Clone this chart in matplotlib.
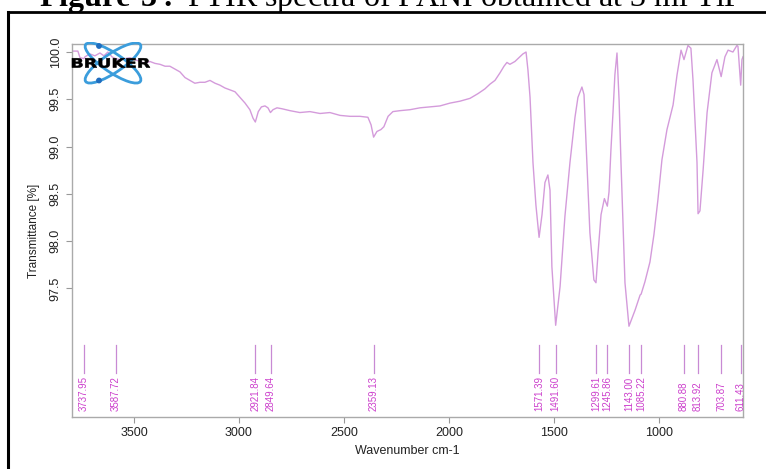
import matplotlib.pyplot as plt
from matplotlib.patches import Ellipse, Circle, PathPatch
from matplotlib.lines import Line2D
from matplotlib.textpath import TextPath
from matplotlib.font_manager import FontProperties
from matplotlib.transforms import Affine2D

plt.rcParams['font.family'] = ['Liberation Sans', 'DejaVu Sans']
plt.rcParams['mathtext.fontset'] = 'custom'
plt.rcParams['mathtext.bf'] = 'Liberation Serif:bold'
plt.rcParams['mathtext.rm'] = 'Liberation Serif'

# IR spectrum, wavenumber (cm-1) vs transmittance (%)
wavenumber = [3795, 3767, 3757, 3738, 3733, 3710, 3686, 3662, 3643, 3624,
              3605, 3588, 3567, 3543, 3519, 3495, 3471, 3448, 3424, 3400,
              3376, 3352, 3329, 3305, 3281, 3257, 3233, 3210, 3186, 3162,
              3138, 3114, 3091, 3067, 3043, 3019, 2995, 2971, 2948, 2933,
              2922, 2908, 2893, 2876, 2862, 2850, 2838, 2819, 2795, 2757,
              2710, 2662, 2614, 2567, 2519, 2471, 2424, 2386, 2371, 2359,
              2343, 2324, 2310, 2290, 2267, 2233, 2186, 2138, 2090, 2043,
              1995, 1948, 1900, 1862, 1829, 1805, 1781, 1757, 1738, 1724,
              1710, 1686, 1662, 1648, 1633, 1624, 1614, 1600, 1586, 1571,
              1557, 1543, 1529, 1519, 1510, 1492, 1471, 1448, 1424, 1400,
              1386, 1367, 1357, 1348, 1329, 1310, 1300, 1290, 1276, 1260,
              1246, 1238, 1229, 1219, 1210, 1200, 1190, 1181, 1162, 1143,
              1114, 1090, 1085, 1067, 1043, 1024, 1005, 986, 962, 933,
              914, 895, 881, 862, 848, 838, 819, 814, 805, 790,
              771, 748, 724, 704, 686, 671, 648, 629, 624, 611,
              605, 600]
transmittance = [100.01, 100.01, 99.94, 99.93, 99.95, 99.98, 99.96, 99.99, 99.96, 100.0,
                 99.95, 99.93, 99.92, 99.93, 99.94, 99.92, 99.90, 99.88, 99.90, 99.88,
                 99.87, 99.85, 99.85, 99.82, 99.79, 99.73, 99.70, 99.67, 99.68, 99.68,
                 99.70, 99.67, 99.65, 99.62, 99.60, 99.58, 99.52, 99.46, 99.39, 99.30,
                 99.26, 99.37, 99.42, 99.43, 99.41, 99.36, 99.39, 99.41, 99.40, 99.38,
                 99.36, 99.37, 99.35, 99.36, 99.33, 99.32, 99.32, 99.31, 99.23, 99.10,
                 99.16, 99.18, 99.21, 99.32, 99.37, 99.38, 99.39, 99.41, 99.42, 99.43,
                 99.46, 99.48, 99.51, 99.56, 99.61, 99.66, 99.70, 99.78, 99.85, 99.89,
                 99.87, 99.90, 99.95, 99.98, 100.0, 99.81, 99.52, 98.83, 98.38, 98.04,
                 98.28, 98.62, 98.70, 98.54, 97.73, 97.11, 97.52, 98.26, 98.83, 99.31,
                 99.52, 99.63, 99.55, 99.07, 98.09, 97.59, 97.56, 97.88, 98.28, 98.45,
                 98.37, 98.52, 98.96, 99.36, 99.76, 99.99, 99.49, 98.83, 97.56, 97.10,
                 97.27, 97.43, 97.44, 97.57, 97.78, 98.07, 98.44, 98.86, 99.18, 99.44,
                 99.76, 100.02, 99.92, 100.07, 100.04, 99.70, 98.83, 98.29, 98.32, 98.75,
                 99.36, 99.78, 99.92, 99.74, 99.95, 100.02, 100.0, 100.07, 100.06, 99.65,
                 99.92, 99.95]

# picked peaks
peaks = [3737.95, 3587.72, 2921.84, 2849.64, 2359.13, 1571.39, 1491.60,
         1299.61, 1245.86, 1143.00, 1085.22, 880.88, 813.92, 703.87, 611.43]

x_ticks = [3500, 3000, 2500, 2000, 1500, 1000]
y_ticks = [97.5, 98.0, 98.5, 99.0, 99.5, 100.0]

W, H = 766, 469
fig = plt.figure(figsize=(W / 100, H / 100), dpi=100)

ax = fig.add_axes([72 / W, 1 - 417 / H, (743 - 72) / W, (417 - 44) / H])
ax.plot(wavenumber, transmittance, color='#d49bdb', lw=1.0)
ax.set_xlim(3795, 600)
ax.set_ylim(96.14, 100.085)

for p in peaks:
    ax.plot([p, p], [96.61, 96.90], color='#c88ad4', lw=0.9)
    ax.text(p, 96.205, '%.2f' % p, rotation=90, ha='center', va='bottom',
            fontsize=7, color='#cc3fcc', clip_on=True)

ax.set_xticks(x_ticks)
ax.set_yticks(y_ticks)
ax.set_yticklabels(['%.1f' % v for v in y_ticks], rotation=90, va='center')
ax.tick_params(length=4.5, width=0.8, color='#999999', labelsize=9,
               labelcolor='#222222', pad=3)
for s in ax.spines.values():
    s.set_color('#aaaaaa')
    s.set_linewidth(1.0)

ax.set_xlabel('Wavenumber cm-1', fontsize=9, color='#222222', labelpad=4)
ax.set_ylabel('Transmittance [%]', fontsize=8.5, color='#222222', labelpad=7)

# Bruker logo
logo = fig.add_axes([70 / W, 1 - 86 / H, 82 / W, 44 / H])
logo.set_xlim(0, 82)
logo.set_ylim(0, 44)
logo.axis('off')
for ang in (34, -34):
    logo.add_patch(Ellipse((43, 23), 66, 19, angle=ang, fill=False,
                           ec='#3b9ddc', lw=2.0))
logo.add_patch(Circle((29, 40), 2.2, color='#1f6dbf'))
logo.add_patch(Circle((29, 5.5), 2.2, color='#1f6dbf'))

tp = TextPath((0, 0), 'BRUKER', size=10,
              prop=FontProperties(family='DejaVu Sans', weight='bold'))
bb = tp.get_extents()
sx = 78 / bb.width
sy = 9.5 / bb.height
tr = Affine2D().translate(-bb.x0, -bb.y0).scale(sx, sy).translate(2, 23 - 4.75)
logo.add_patch(PathPatch(tr.transform_path(tp), fc='black', ec='black', lw=0.4))

# frame of the figure box and caption
fig.add_artist(Line2D([7.5 / W, 7.5 / W], [0, 1 - 12 / H],
                      color='black', lw=2.2))
fig.add_artist(Line2D([7.5 / W, 1], [1 - 12 / H, 1 - 12 / H],
                      color='black', lw=2.0))
fig.text(391 / W, 1 - 6 / H, r'$\mathbf{Figure\ 3:}$ FTIR spectra of PANI obtained at 3 ml TiP',
         ha='center', va='baseline', fontsize=23, family='Liberation Serif')

fig.savefig('out.png', dpi=100)
